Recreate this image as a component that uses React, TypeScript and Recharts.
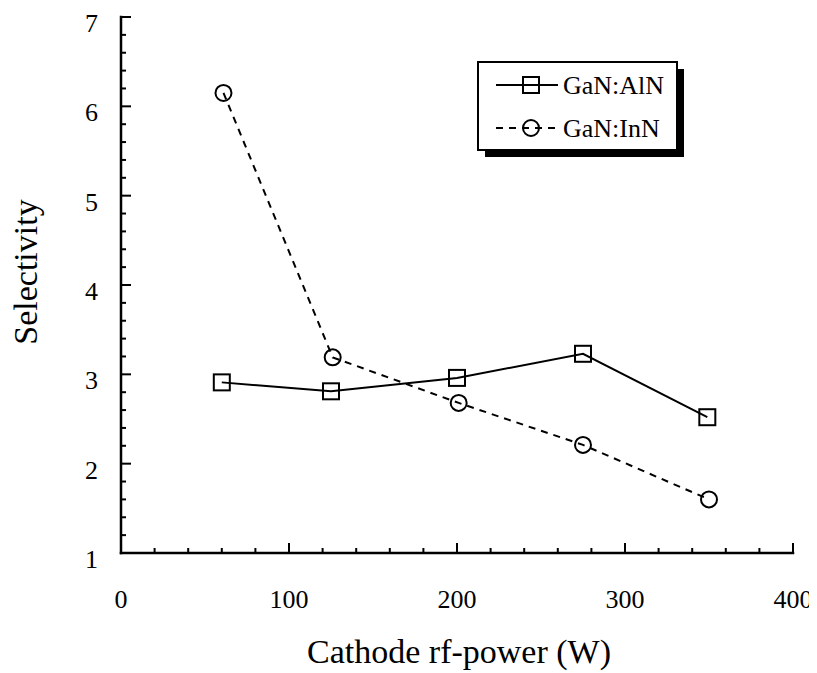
import React from 'react';
import { LineChart, Line, XAxis, YAxis, Customized } from 'recharts';

// Cathode rf-power (W)
const powerAlN = [60, 125, 200, 275, 349];
const selectivityAlN = [2.91, 2.81, 2.96, 3.23, 2.52];

const powerInN = [61, 126, 201, 275, 350];
const selectivityInN = [6.15, 3.19, 2.68, 2.21, 1.6];

const xMajorTicks = [0, 100, 200, 300, 400];
const xAllTicks = [0, 20, 40, 60, 80, 100, 120, 140, 160, 180, 200, 220, 240, 260, 280, 300, 320, 340, 360, 380, 400];
const yMajorTicks = [1, 2, 3, 4, 5, 6, 7];
const yAllTicks = [1, 1.2, 1.4, 1.6, 1.8, 2, 2.2, 2.4, 2.6, 2.8, 3, 3.2, 3.4, 3.6, 3.8, 4, 4.2, 4.4, 4.6, 4.8, 5, 5.2, 5.4, 5.6, 5.8, 6, 6.2, 6.4, 6.6, 6.8, 7];

const seriesAlN = powerAlN.map((x, i) => ({ x, y: selectivityAlN[i] }));
const seriesInN = powerInN.map((x, i) => ({ x, y: selectivityInN[i] }));

const FONT = '"Liberation Serif", "Times New Roman", serif';
const MAJOR = 10;
const MINOR = 5;
const isMajor = (v: number, majors: number[]) => majors.some((m) => Math.abs(m - v) < 1e-6);

const BottomTick = (props: any) => {
  const { x, y, payload } = props;
  const major = isMajor(payload.value, xMajorTicks);
  return (
    <g>
      <line x1={x} y1={y} x2={x} y2={y - (major ? MAJOR : MINOR)} stroke="#000" strokeWidth={2} />
      {major && (
        <text x={x} y={y + 55} textAnchor="middle" fontSize={26} fontFamily={FONT} fill="#000">
          {payload.value}
        </text>
      )}
    </g>
  );
};

const TopTick = (props: any) => {
  const { x, y, payload } = props;
  const major = isMajor(payload.value, xMajorTicks);
  return <line x1={x} y1={y} x2={x} y2={y + (major ? MAJOR : MINOR)} stroke="#000" strokeWidth={2} />;
};

const LeftTick = (props: any) => {
  const { x, y, payload } = props;
  const major = isMajor(payload.value, yMajorTicks);
  return (
    <g>
      <line x1={x} y1={y} x2={x + (major ? MAJOR : MINOR)} y2={y} stroke="#000" strokeWidth={2} />
      {major && (
        <text x={x - 23} y={y + 15} textAnchor="end" fontSize={26} fontFamily={FONT} fill="#000">
          {payload.value}
        </text>
      )}
    </g>
  );
};

const RightTick = (props: any) => {
  const { x, y, payload } = props;
  const major = isMajor(payload.value, yMajorTicks);
  return <line x1={x} y1={y} x2={x - (major ? MAJOR : MINOR)} y2={y} stroke="#000" strokeWidth={2} />;
};

const SquareDot = (props: any) => {
  const { cx, cy, index } = props;
  return (
    <rect key={`sq-${index}`} x={cx - 8} y={cy - 8} width={16} height={16} fill="none" stroke="#000" strokeWidth={2} />
  );
};

const CircleDot = (props: any) => {
  const { cx, cy, index } = props;
  return <circle key={`ci-${index}`} cx={cx} cy={cy} r={8} fill="none" stroke="#000" strokeWidth={2} />;
};

// Boxed legend with a drop shadow, plus the two axis titles.
const Decorations = () => (
  <g fontFamily={FONT} fill="#000">
    <rect x={477} y={61} width={199} height={88} fill="#000" />
    <rect x={470} y={54} width={199} height={88} fill="#fff" stroke="#000" strokeWidth={2} />
    <line x1={488} y1={77} x2={550} y2={77} stroke="#000" strokeWidth={2} />
    <rect x={515} y={69} width={16} height={16} fill="none" stroke="#000" strokeWidth={2} />
    <text x={555} y={86} fontSize={26}>GaN:AlN</text>
    <line x1={488} y1={120} x2={550} y2={120} stroke="#000" strokeWidth={2} strokeDasharray="7 6" />
    <circle cx={523} cy={120} r={8} fill="none" stroke="#000" strokeWidth={2} />
    <text x={555} y={129} fontSize={26}>GaN:InN</text>
    <text x={451} y={655} textAnchor="middle" fontSize={34}>Cathode rf-power (W)</text>
    <text x={0} y={0} transform="translate(29 264) rotate(-90)" textAnchor="middle" fontSize={34}>Selectivity</text>
  </g>
);

export default function App() {
  const axisLine = { stroke: '#000', strokeWidth: 2.5, strokeLinecap: 'square' as const };
  return (
    <LineChart width={809} height={665} margin={{ top: 9, right: 24, bottom: 0, left: 0 }}>
      <XAxis
        xAxisId="b"
        type="number"
        dataKey="x"
        domain={[0, 400]}
        allowDataOverflow
        ticks={xAllTicks}
        interval={0}
        height={120}
        tickSize={0}
        tickMargin={0}
        tickLine={false}
        axisLine={axisLine}
        tick={<BottomTick />}
      />
      <XAxis
        xAxisId="t"
        orientation="top"
        type="number"
        dataKey="x"
        domain={[0, 400]}
        allowDataOverflow
        ticks={xAllTicks}
        interval={0}
        height={0}
        tickSize={0}
        tickMargin={0}
        tickLine={false}
        axisLine={axisLine}
        tick={<TopTick />}
      />
      <YAxis
        yAxisId="l"
        type="number"
        domain={[1, 7]}
        allowDataOverflow
        ticks={yAllTicks}
        interval={0}
        width={113}
        tickSize={0}
        tickMargin={0}
        tickLine={false}
        axisLine={axisLine}
        tick={<LeftTick />}
      />
      <YAxis
        yAxisId="r"
        orientation="right"
        type="number"
        domain={[1, 7]}
        allowDataOverflow
        ticks={yAllTicks}
        interval={0}
        width={0}
        tickSize={0}
        tickMargin={0}
        tickLine={false}
        axisLine={axisLine}
        tick={<RightTick />}
      />
      <Line
        xAxisId="b"
        yAxisId="l"
        data={seriesAlN}
        dataKey="y"
        stroke="#000"
        strokeWidth={2}
        dot={SquareDot}
        activeDot={false}
        isAnimationActive={false}
      />
      <Line
        xAxisId="b"
        yAxisId="l"
        data={seriesInN}
        dataKey="y"
        stroke="#000"
        strokeWidth={2}
        strokeDasharray="7 6"
        dot={CircleDot}
        activeDot={false}
        isAnimationActive={false}
      />
      <Customized component={<Decorations />} />
    </LineChart>
  );
}
